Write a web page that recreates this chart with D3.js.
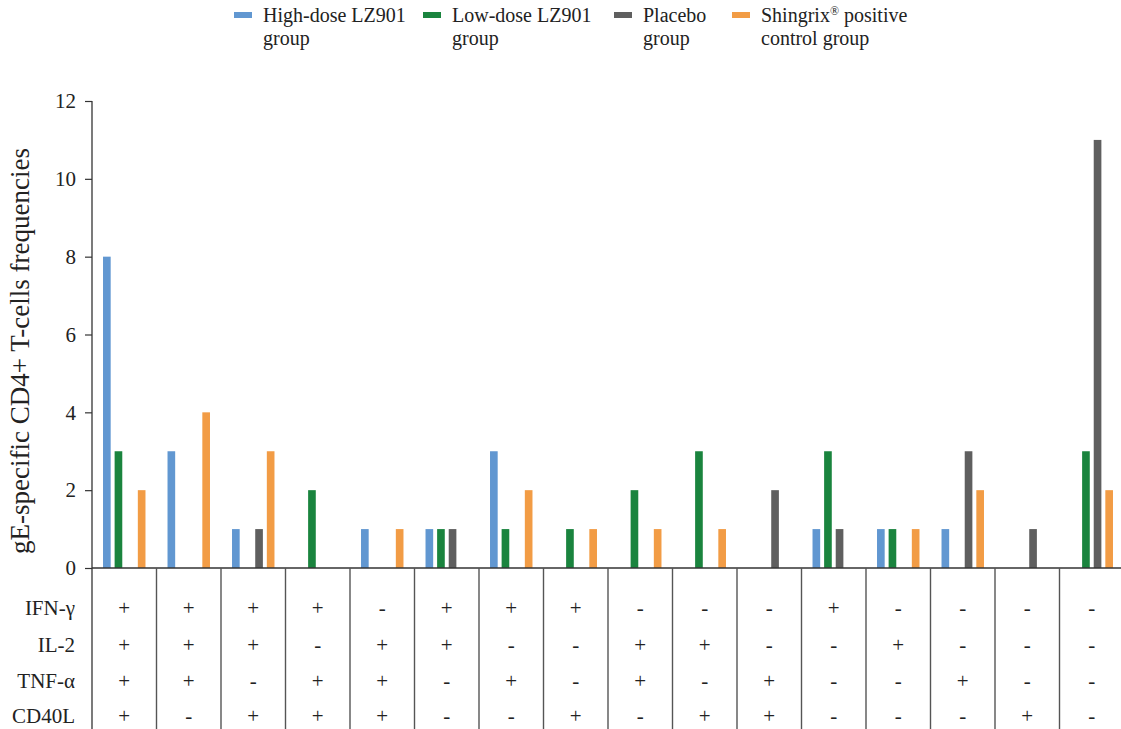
<!DOCTYPE html>
<html>
<head>
<meta charset="utf-8">
<script src="https://cdn.jsdelivr.net/npm/d3@7"></script>
<style>
  body { margin: 0; background: #fff; }
  svg { display: block; }
</style>
</head>
<body>
<svg id="chart" width="1121" height="729"></svg>
<script>
const categories = ["c1","c2","c3","c4","c5","c6","c7","c8","c9","c10","c11","c12","c13","c14","c15","c16"];
const seriesNames = [["High-dose LZ901", "group"], ["Low-dose LZ901", "group"], ["Placebo", "group"], ["Shingrix\u00AE positive", "control group"]];
const seriesColors = ["#6197d1", "#1a843e", "#5f5f5f", "#f29c45"];
const highDose = [8, 3, 1, 0, 1, 1, 3, 0, 0, 0, 0, 1, 1, 1, 0, 0];
const lowDose  = [3, 0, 0, 2, 0, 1, 1, 1, 2, 3, 0, 3, 1, 0, 0, 3];
const placebo  = [0, 0, 1, 0, 0, 1, 0, 0, 0, 0, 2, 1, 0, 3, 1, 11];
const shingrix = [2, 4, 3, 0, 1, 0, 2, 1, 1, 1, 0, 0, 1, 2, 0, 2];
const rowLabels = ["IFN-\u03B3", "IL-2", "TNF-\u03B1", "CD40L"];
const ifn   = ["+","+","+","+","-","+","+","+","-","-","-","+","-","-","-","-"];
const il2   = ["+","+","+","-","+","+","-","-","+","+","-","-","+","-","-","-"];
const tnf   = ["+","+","-","+","+","-","+","-","+","-","+","-","-","+","-","-"];
const cd40l = ["+","-","+","+","+","-","-","+","-","+","+","-","-","-","+","-"];
const yTicks = [0, 2, 4, 6, 8, 10, 12];

const series = [highDose, lowDose, placebo, shingrix];
const tableRows = [ifn, il2, tnf, cd40l];
const FONT = '"Liberation Serif", "Times New Roman", serif';

const svg = d3.select("#chart");
const mLeft = 92, mRight = 1124, mTop = 101, mBottom = 568;

const x = d3.scaleBand().domain(categories).range([mLeft, mRight]).padding(0);
const xInner = d3.scaleBand().domain(d3.range(4)).range([0, x.bandwidth()]).paddingInner(0.34).paddingOuter(0.95);
const y = d3.scaleLinear().domain([0, 12]).range([mBottom, mTop]);

// bars
const g = svg.append("g");
series.forEach((vals, si) => {
  g.selectAll(null).data(vals.map((v, i) => ({v, c: categories[i]})).filter(d => d.v > 0))
    .enter().append("rect")
    .attr("x", d => x(d.c) + xInner(si))
    .attr("width", xInner.bandwidth())
    .attr("y", d => y(d.v))
    .attr("height", d => y(0) - y(d.v))
    .attr("fill", seriesColors[si]);
});

// y axis
const yAxis = d3.axisLeft(y).tickValues(yTicks).tickSize(7).tickPadding(9);
const ya = svg.append("g").attr("transform", `translate(${mLeft},0)`).call(yAxis);
ya.select(".domain").remove();
ya.selectAll("line").attr("stroke", "#333").attr("stroke-width", 1.2);
ya.selectAll("text").attr("font-size", 21).attr("fill", "#222").style("font-family", FONT);
svg.append("line").attr("x1", mLeft).attr("x2", mLeft).attr("y1", mTop).attr("y2", 729)
  .attr("stroke", "#333").attr("stroke-width", 1.3);

// x axis line
svg.append("line").attr("x1", mLeft).attr("x2", 1121).attr("y1", mBottom).attr("y2", mBottom)
  .attr("stroke", "#333").attr("stroke-width", 1.6);

// table vertical lines
svg.selectAll(null).data(categories.slice(1)).enter().append("line")
  .attr("x1", d => x(d)).attr("x2", d => x(d))
  .attr("y1", mBottom).attr("y2", 729)
  .attr("stroke", "#555").attr("stroke-width", 1.4);

// y title
svg.append("text")
  .attr("transform", `translate(29,351) rotate(-90)`)
  .attr("text-anchor", "middle")
  .attr("font-size", 27).attr("fill", "#222").style("font-family", FONT)
  .text("gE-specific CD4+ T-cells frequencies");

// table
const rowY = [608, 645, 681, 716];
rowLabels.forEach((lab, ri) => {
  svg.append("text").attr("x", 75).attr("y", rowY[ri]).attr("dy", "0.35em")
    .attr("text-anchor", "end").attr("font-size", 21).attr("fill", "#222").style("font-family", FONT).text(lab);
  svg.selectAll(null).data(tableRows[ri].map((s, i) => ({s, c: categories[i]}))).enter().append("text")
    .attr("x", d => x(d.c) + x.bandwidth() / 2)
    .attr("y", rowY[ri]).attr("dy", "0.35em")
    .attr("text-anchor", "middle").attr("font-size", 21).attr("fill", "#222").style("font-family", FONT)
    .text(d => d.s);
});

// legend
const legX = [234, 423, 614, 732];
seriesNames.forEach((lines, si) => {
  const lg = svg.append("g").attr("transform", `translate(${legX[si]},0)`);
  lg.append("rect").attr("x", 0).attr("y", 12).attr("width", 18).attr("height", 6).attr("fill", seriesColors[si]);
  lines.forEach((t, li) => {
    const txt = lg.append("text").attr("x", 29).attr("y", 22 + li * 23).attr("font-size", 20)
      .attr("fill", "#222").style("font-family", FONT);
    if (t.includes("\u00AE")) {
      const parts = t.split("\u00AE");
      txt.append("tspan").text(parts[0]);
      txt.append("tspan").attr("font-size", 12).attr("dy", -7).text("\u00AE");
      txt.append("tspan").attr("dy", 7).text(parts[1]);
    } else {
      txt.text(t);
    }
  });
});
</script>
</body>
</html>
